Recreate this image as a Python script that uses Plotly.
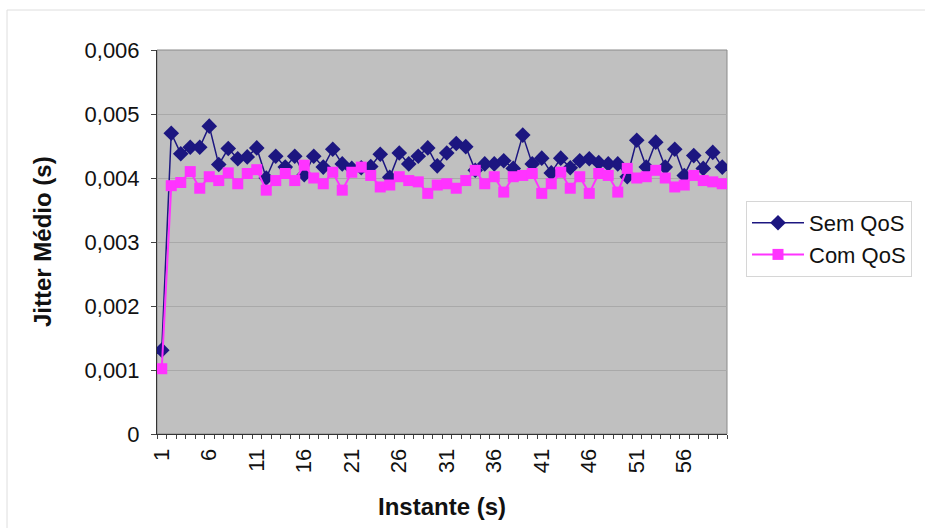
import plotly.graph_objects as go

# ---- data ----
instante = list(range(1, 61))

sem_qos = [0.00131, 0.00470, 0.00438, 0.00448, 0.00448, 0.00481, 0.00421, 0.00446, 0.00430, 0.00433,
           0.00447, 0.00400, 0.00434, 0.00417, 0.00434, 0.00405, 0.00434, 0.00417, 0.00445, 0.00422,
           0.00415, 0.00416, 0.00418, 0.00437, 0.00401, 0.00439, 0.00422, 0.00434, 0.00447, 0.00419,
           0.00439, 0.00454, 0.00449, 0.00412, 0.00422, 0.00422, 0.00427, 0.00415, 0.00467, 0.00422,
           0.00431, 0.00408, 0.00431, 0.00416, 0.00427, 0.00430, 0.00424, 0.00422, 0.00422, 0.00402,
           0.00459, 0.00417, 0.00456, 0.00417, 0.00445, 0.00404, 0.00435, 0.00415, 0.00440, 0.00417]

com_qos = [0.00102, 0.00388, 0.00393, 0.00410, 0.00384, 0.00402, 0.00396, 0.00408, 0.00391, 0.00407,
           0.00413, 0.00381, 0.00396, 0.00407, 0.00396, 0.00420, 0.00400, 0.00391, 0.00409, 0.00381,
           0.00409, 0.00417, 0.00404, 0.00386, 0.00389, 0.00402, 0.00396, 0.00394, 0.00376, 0.00389,
           0.00391, 0.00384, 0.00396, 0.00412, 0.00391, 0.00402, 0.00378, 0.00402, 0.00404, 0.00407,
           0.00376, 0.00391, 0.00409, 0.00384, 0.00402, 0.00376, 0.00407, 0.00404, 0.00378, 0.00415,
           0.00400, 0.00402, 0.00412, 0.00400, 0.00386, 0.00389, 0.00404, 0.00396, 0.00394, 0.00391]

x_tick_vals = list(range(1, 61, 5))
x_tick_text = [str(v) for v in x_tick_vals]
y_tick_vals = [0, 0.001, 0.002, 0.003, 0.004, 0.005, 0.006]
y_tick_text = ["0", "0,001", "0,002", "0,003", "0,004", "0,005", "0,006"]
series_names = ["Sem QoS", "Com QoS"]

# ---- geometry helpers (pixel -> paper) ----
W, H = 925, 528
L, R, T, B = 157, 727, 50, 434
def px(x):
    return (x - L) / (R - L)
def py(y):
    return (B - y) / (B - T)

FONT = "Liberation Sans, Arial, Helvetica, sans-serif"

fig = go.Figure()
fig.add_trace(go.Scatter(
    x=instante, y=sem_qos, name=series_names[0], mode="lines+markers",
    line=dict(color="#1c1680", width=1.5),
    marker=dict(symbol="diamond", size=12, color="#1c1680"),
    legendgroup="a",
))
fig.add_trace(go.Scatter(
    x=instante, y=com_qos, name=series_names[1], mode="lines+markers",
    line=dict(color="#ff33ff", width=2),
    marker=dict(symbol="square", size=11, color="#ff33ff"),
    legendgroup="b",
))

fig.update_layout(
    width=W, height=H,
    margin=dict(l=L, r=W - R, t=T, b=H - B),
    paper_bgcolor="white",
    plot_bgcolor="#c0c0c0",
    font=dict(family=FONT, color="#111111", size=22),
    showlegend=True,
    legend=dict(
        x=px(746), y=py(201), xanchor="left", yanchor="top",
        bgcolor="white", bordercolor="#d6d6d6", borderwidth=1,
        font=dict(size=22, family=FONT, color="#111111"),
        itemwidth=52, tracegroupgap=15, traceorder="normal",
    ),
    xaxis=dict(
        range=[0.5, 60.5],
        tickmode="array", tickvals=x_tick_vals, ticktext=x_tick_text,
        tickangle=-90, ticks="", showgrid=False, zeroline=False,
        showline=True, linecolor="#333333", linewidth=1,
        tickfont=dict(size=22, family=FONT),
        ticklabelstandoff=5,
        minor=dict(tickmode="array", tickvals=[v + 0.5 for v in range(0, 61)],
                   ticks="outside", ticklen=4, tickcolor="#444444", showgrid=False),
    ),
    yaxis=dict(
        range=[0, 0.006],
        tickmode="array", tickvals=y_tick_vals, ticktext=y_tick_text,
        ticks="outside", ticklen=5, tickcolor="#444444",
        showgrid=True, gridcolor="#a9a9a9", gridwidth=1, zeroline=False,
        showline=True, linecolor="#333333", linewidth=1,
        tickfont=dict(size=22, family=FONT),
        ticklabelstandoff=7,
    ),
    shapes=[
        dict(type="rect", xref="paper", yref="paper",
             x0=px(7), x1=px(945), y0=py(545), y1=py(10),
             line=dict(color="#dedede", width=1), layer="below"),
        dict(type="rect", xref="paper", yref="paper",
             x0=0, x1=1, y0=0, y1=1,
             line=dict(color="#8a8a8a", width=1), layer="below"),
    ],
    annotations=[
        dict(text="<b>Jitter Médio (s)</b>", xref="paper", yref="paper",
             x=px(42), y=0.5, textangle=-90, showarrow=False,
             xanchor="center", yanchor="middle",
             font=dict(size=24, family=FONT, color="#111111")),
        dict(text="<b>Instante (s)</b>", xref="paper", yref="paper",
             x=0.5, y=py(506), showarrow=False,
             xanchor="center", yanchor="middle",
             font=dict(size=24, family=FONT, color="#111111")),
    ],
)

fig.write_html("out.html", config={"displayModeBar": False})
